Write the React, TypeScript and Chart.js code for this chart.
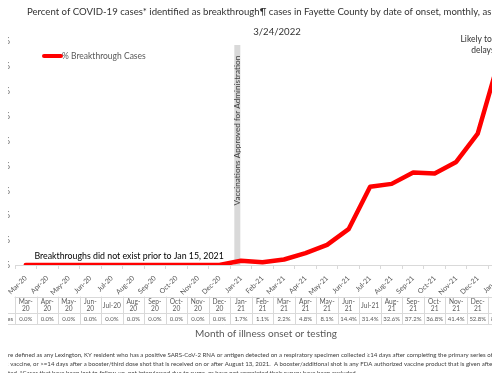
import { useEffect, useRef } from 'react';
import { Chart, registerables } from 'chart.js';

Chart.register(...registerables);

const FONT = 'Lato, "DejaVu Sans", sans-serif';
const OFFSET_X = 60; // canvas pixels hidden on the left of the viewport
const CANVAS_W = 620;
const CANVAS_H = 381;

const categories = [
  'Mar-20', 'Apr-20', 'May-20', 'Jun-20', 'Jul-20', 'Aug-20', 'Sep-20', 'Oct-20',
  'Nov-20', 'Dec-20', 'Jan-21', 'Feb-21', 'Mar-21', 'Apr-21', 'May-21', 'Jun-21',
  'Jul-21', 'Aug-21', 'Sep-21', 'Oct-21', 'Nov-21', 'Dec-21', 'Jan-22',
];
const breakthroughPct = [
  0, 0, 0, 0, 0, 0, 0, 0, 0, 0, 1.7, 1.1, 2.2, 4.8, 8.1, 14.4, 31.4, 32.6, 37.2, 36.8, 41.4, 52.8, 82.7,
];
const yTickValues = [0, 10, 20, 30, 40, 50, 60, 70, 80, 90];
const seriesLabel = '% Breakthrough Cases';
const titleLines = [
  'Percent of COVID-19 cases* identified as breakthrough¶ cases in Fayette County by date of onset, monthly, as of',
  '3/24/2022',
];
const xAxisTitle = 'Month of illness onset or testing';
const vaccineNote = 'Vaccinations Approved for Administration';
const preNote = 'Breakthroughs did not exist prior to Jan 15, 2021';
const lateNote = ['Likely to increase due to', 'delays in reporting'];
const footnotes = [
  { lead: '¶Breakthrough cases ', text: 'are defined as any Lexington, KY resident who has a positive SARS-CoV-2 RNA or antigen detected on a respiratory specimen collected ≥14 days after completing the primary series of a' },
  { lead: 'SARS-CoV', text: '-2 vaccine, or >=14 days after a booster/third dose shot that is received on or after August 13, 2021.  A booster/additional shot is any FDA authorized vaccine product that is given after the primary series is' },
  { lead: 'com', text: 'pleted. *Cases that have been lost to follow-up, not interviewed due to surge, or have not completed their survey have been excluded.' },
];

const RED = '#ff0000';
const GRAY_LINE = '#d9d9d9';
const TEXT_GRAY = '#595959';

const overlayPlugin = {
  id: 'overlay',
  beforeDatasetsDraw(chart: any) {
    const { ctx, scales } = chart;
    const x = scales.x;
    const y = scales.y;
    const cx = x.getPixelForValue(9.83);
    const top = y.getPixelForValue(88.4);
    const bottom = y.getPixelForValue(0);
    ctx.save();
    ctx.fillStyle = GRAY_LINE;
    ctx.fillRect(cx - 3, top, 6, bottom - top);
    ctx.translate(cx + 0.5, y.getPixelForValue(54));
    ctx.rotate(-Math.PI / 2);
    ctx.fillStyle = '#404040';
    ctx.font = `8.2px ${FONT}`;
    ctx.textAlign = 'center';
    ctx.textBaseline = 'middle';
    ctx.fillText(vaccineNote, 0, 0);
    ctx.restore();
  },
  afterDraw(chart: any) {
    const { ctx, chartArea, scales } = chart;
    const x = scales.x;
    const y = scales.y;
    const V = (v: number) => v + OFFSET_X;
    const n = categories.length;
    const cw = (chartArea.right - chartArea.left) / n;
    ctx.save();

    // title
    ctx.fillStyle = '#333333';
    ctx.font = `9.6px ${FONT}`;
    ctx.textBaseline = 'middle';
    ctx.textAlign = 'left';
    ctx.fillText(titleLines[0], V(27), 12);
    ctx.textAlign = 'center';
    ctx.fillText(titleLines[1], V(277), 32);

    // legend inside plot
    ctx.strokeStyle = RED;
    ctx.lineWidth = 4;
    ctx.lineCap = 'round';
    ctx.beginPath();
    ctx.moveTo(V(44), 56);
    ctx.lineTo(V(61), 56);
    ctx.stroke();
    ctx.fillStyle = TEXT_GRAY;
    ctx.font = `8.5px ${FONT}`;
    ctx.textAlign = 'left';
    ctx.fillText(seriesLabel, V(62), 56);

    // pre-vaccine note
    ctx.fillStyle = '#000000';
    ctx.font = `8.8px ${FONT}`;
    ctx.textAlign = 'center';
    ctx.fillText(preNote, x.getPixelForValue(4.8), y.getPixelForValue(3.6));

    // late note
    ctx.fillStyle = '#333333';
    ctx.font = `8.5px ${FONT}`;
    ctx.fillText(lateNote[0], x.getPixelForValue(22.3), y.getPixelForValue(90.8));
    ctx.fillText(lateNote[1], x.getPixelForValue(22.3), y.getPixelForValue(86.4));

    // data table
    const tTop = 297;
    const tMid = 313;
    const tBot = 324;
    const legendLeft = V(-120);
    ctx.strokeStyle = GRAY_LINE;
    ctx.lineWidth = 1;
    ctx.beginPath();
    ctx.moveTo(chartArea.left, tTop + 0.5);
    ctx.lineTo(chartArea.right, tTop + 0.5);
    ctx.moveTo(legendLeft, tMid + 0.5);
    ctx.lineTo(chartArea.right, tMid + 0.5);
    ctx.moveTo(legendLeft, tBot + 0.5);
    ctx.lineTo(chartArea.right, tBot + 0.5);
    for (let i = 0; i <= n; i++) {
      const bx = Math.round(chartArea.left + i * cw) + 0.5;
      ctx.moveTo(bx, tTop);
      ctx.lineTo(bx, tBot);
    }
    ctx.stroke();

    ctx.fillStyle = TEXT_GRAY;
    ctx.textAlign = 'center';
    ctx.textBaseline = 'middle';
    for (let i = 0; i < n; i++) {
      const px = x.getPixelForValue(i);
      ctx.font = `6.6px ${FONT}`;
      const lab = categories[i];
      if (ctx.measureText(lab).width > cw - 2.7) {
        const parts = lab.split('-');
        ctx.fillText(parts[0] + '-', px, 301.5);
        ctx.fillText(parts[1], px, 309);
      } else {
        ctx.fillText(lab, px, 305.5);
      }
      ctx.font = `6px ${FONT}`;
      ctx.fillText(breakthroughPct[i].toFixed(1) + '%', px, 319);
    }
    ctx.font = `6px ${FONT}`;
    ctx.textAlign = 'right';
    ctx.fillText(seriesLabel, V(13), 319);
    const lw = ctx.measureText(seriesLabel).width;
    ctx.strokeStyle = RED;
    ctx.lineWidth = 3;
    ctx.beginPath();
    ctx.moveTo(V(13) - lw - 16, 319);
    ctx.lineTo(V(13) - lw - 3, 319);
    ctx.stroke();

    // x axis title
    ctx.fillStyle = TEXT_GRAY;
    ctx.font = `10px ${FONT}`;
    ctx.textAlign = 'center';
    ctx.fillText(xAxisTitle, V(266), 334);

    // footnotes
    ctx.fillStyle = '#404040';
    ctx.font = `6.1px ${FONT}`;
    ctx.textAlign = 'left';
    const starts = [5, 3, 0];
    const ys = [355, 364, 373];
    footnotes.forEach((f, i) => {
      const lead = ctx.measureText(f.lead).width;
      ctx.fillText(f.lead + f.text, V(starts[i]) - lead, ys[i]);
    });
    ctx.restore();
  },
};

export default function App() {
  const ref = useRef<HTMLCanvasElement | null>(null);
  useEffect(() => {
    if (!ref.current) return;
    const chart = new Chart(ref.current, {
      type: 'line',
      data: {
        labels: categories,
        datasets: [
          {
            label: seriesLabel,
            data: breakthroughPct,
            borderColor: RED,
            backgroundColor: RED,
            borderWidth: 4.5,
            pointRadius: 0,
            borderJoinStyle: 'round',
            borderCapStyle: 'round',
            tension: 0,
          },
        ],
      },
      options: {
        responsive: false,
        animation: false,
        layout: { padding: { top: 41, right: CANVAS_W - (510 + OFFSET_X), left: 0, bottom: 0 } },
        plugins: { legend: { display: false }, tooltip: { enabled: false }, title: { display: false } },
        scales: {
          x: {
            type: 'category',
            offset: true,
            grid: { display: true, offset: true, drawOnChartArea: false, drawTicks: true, tickLength: 4, color: GRAY_LINE },
            border: { display: true, color: GRAY_LINE },
            ticks: { autoSkip: false, minRotation: 45, maxRotation: 45, padding: 5, color: TEXT_GRAY, font: { family: FONT, size: 7 } },
            afterFit(s: any) { s.height = 116; },
          },
          y: {
            min: 0,
            max: 90,
            afterBuildTicks(s: any) { s.ticks = yTickValues.map((v) => ({ value: v })); },
            grid: { display: false, drawTicks: false },
            border: { display: false },
            ticks: { padding: 5, color: TEXT_GRAY, font: { family: FONT, size: 10 }, callback: (v: any) => v + '%' },
            afterFit(s: any) { s.width = 75; },
          },
        },
      },
      plugins: [overlayPlugin],
    } as any);
    return () => chart.destroy();
  }, []);
  return (
    <div style={{ margin: -8, width: 500, height: 381, overflow: 'hidden', position: 'relative', background: '#fff' }}>
      <canvas ref={ref} width={CANVAS_W} height={CANVAS_H} style={{ position: 'absolute', left: -OFFSET_X, top: 0, width: CANVAS_W, height: CANVAS_H }} />
    </div>
  );
}
